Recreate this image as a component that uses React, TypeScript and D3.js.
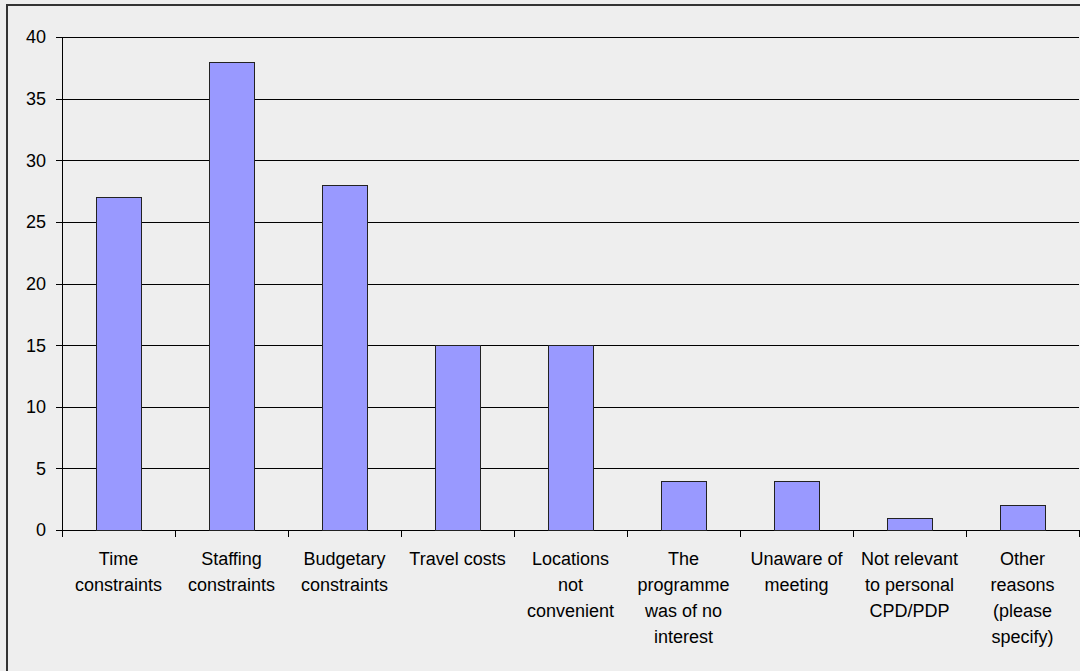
import React from "react";
import * as d3 from "d3";

const categories: string[][] = [
  ["Time", "constraints"],
  ["Staffing", "constraints"],
  ["Budgetary", "constraints"],
  ["Travel costs"],
  ["Locations", "not", "convenient"],
  ["The", "programme", "was of no", "interest"],
  ["Unaware of", "meeting"],
  ["Not relevant", "to personal", "CPD/PDP"],
  ["Other", "reasons", "(please", "specify)"],
];
const counts: number[] = [27, 38, 28, 15, 15, 4, 4, 1, 2];
const yTicks: number[] = [0, 5, 10, 15, 20, 25, 30, 35, 40];

const W = 1080;
const H = 671;
const left = 62;
const right = 1079;
const top = 37;
const bottom = 530;
const font = "'Liberation Sans', Arial, sans-serif";

export default function App() {
  const keys = categories.map((c) => c.join(" "));
  const x = d3.scaleBand<string>().domain(keys).range([left, right]).padding(0);
  const y = d3.scaleLinear().domain([0, 40]).range([bottom, top]);
  const bw = x.bandwidth() * 0.4;
  const step = x.step();

  return (
    <svg
      width={W}
      height={H}
      style={{ position: "absolute", left: 0, top: 0, display: "block" }}
      fontFamily={font}
    >
      <rect x={0} y={0} width={W} height={H} fill="#eeeeee" />
      {/* outer frame (left and top edges) */}
      <line x1={7} x2={W} y1={5} y2={5} stroke="#333" strokeWidth={2} />
      <line x1={7} x2={7} y1={4} y2={H} stroke="#333" strokeWidth={2} />

      {/* gridlines */}
      {yTicks.map((t) => (
        <line
          key={"g" + t}
          x1={left}
          x2={right}
          y1={Math.round(y(t)) + 0.5}
          y2={Math.round(y(t)) + 0.5}
          stroke="#000"
          strokeWidth={1}
        />
      ))}

      {/* y axis */}
      <line x1={left + 0.5} x2={left + 0.5} y1={top} y2={bottom + 7} stroke="#000" />
      {yTicks.map((t) => (
        <g key={"yt" + t}>
          <line
            x1={left - 6}
            x2={left}
            y1={Math.round(y(t)) + 0.5}
            y2={Math.round(y(t)) + 0.5}
            stroke="#000"
          />
          <text
            x={46}
            y={y(t)}
            dy="0.36em"
            textAnchor="end"
            fontSize={18}
            fill="#000"
          >
            {t}
          </text>
        </g>
      ))}

      {/* x ticks at category boundaries */}
      {d3.range(categories.length + 1).map((i) => {
        const xx = Math.round(left + i * step) + 0.5;
        return (
          <line key={"xt" + i} x1={xx} x2={xx} y1={bottom} y2={bottom + 7} stroke="#000" />
        );
      })}

      {/* bars */}
      {counts.map((v, i) => {
        const cx = (x(keys[i]) as number) + x.bandwidth() / 2;
        const x0 = Math.round(cx - bw / 2) + 0.5;
        const y0 = Math.round(y(v)) + 0.5;
        return (
          <rect
            key={"b" + i}
            x={x0}
            y={y0}
            width={Math.round(bw)}
            height={Math.round(y(0)) - Math.round(y(v))}
            fill="#9999ff"
            stroke="#222"
            strokeWidth={1}
          />
        );
      })}

      {/* category labels */}
      {categories.map((lines, i) => {
        const cx = (x(keys[i]) as number) + x.bandwidth() / 2;
        return (
          <text key={"c" + i} textAnchor="middle" fontSize={18} fill="#000">
            {lines.map((ln, j) => (
              <tspan key={j} x={cx} y={565 + j * 26}>
                {ln}
              </tspan>
            ))}
          </text>
        );
      })}
    </svg>
  );
}
